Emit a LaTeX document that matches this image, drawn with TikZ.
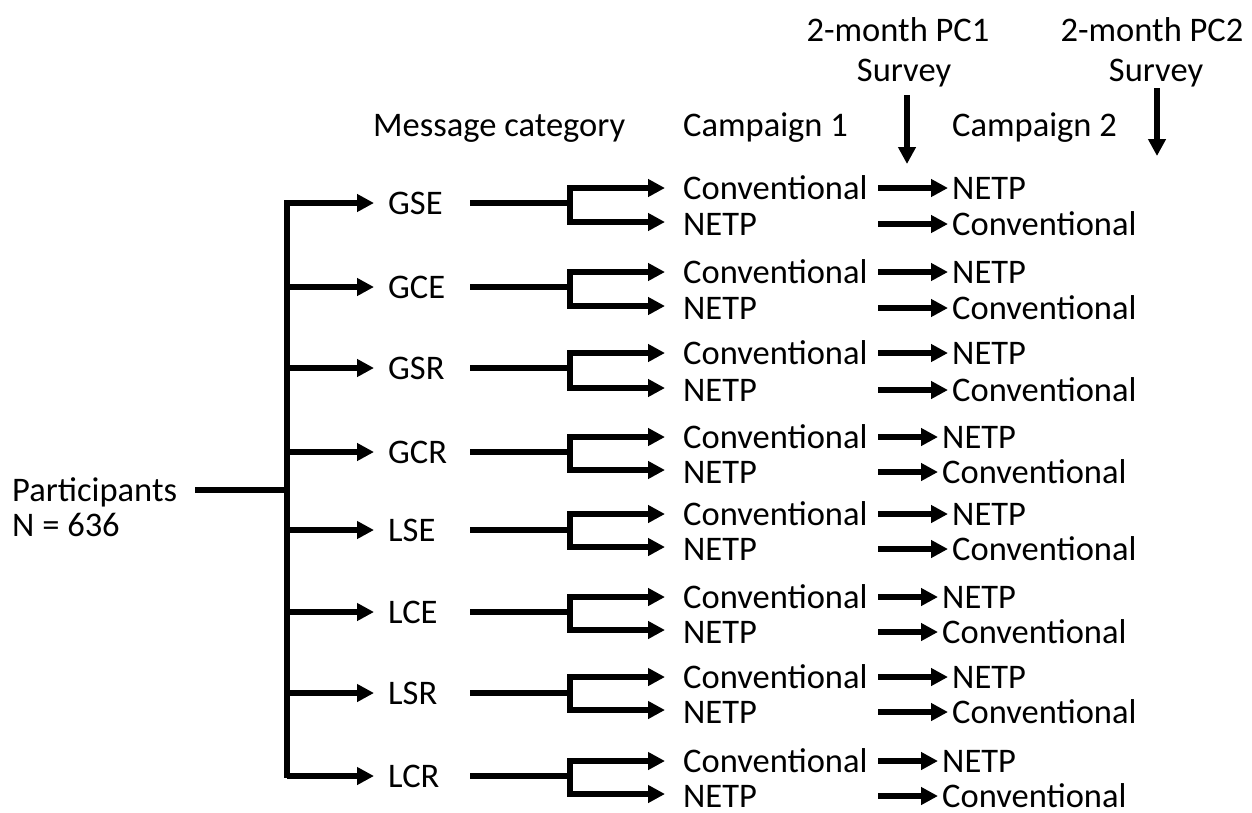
\documentclass[tikz,border=0pt]{standalone}
\usepackage{fontspec}
\setmainfont{Carlito}
\usetikzlibrary{arrows.meta}
\begin{document}
\begin{tikzpicture}[x=1pt,y=-1pt,
  lbl/.style={anchor=west,inner sep=0pt,text height=22pt,text depth=0pt,font=\fontsize{34.5}{35}\selectfont},
  ctr/.style={lbl,anchor=center},
  ln/.style={line width=5.5pt},
  lnr/.style={line width=5.5pt,line cap=rect},
  arr/.style={line width=5.5pt,-{Triangle[length=17pt,width=17pt]}},
]
\useasboundingbox (0,0) rectangle (1252,812);
% headers
\node[ctr] (h1a) at (898,30) {2-month PC1};
\node[ctr] (h1b) at (904,70) {Survey};
\node[ctr] (h2a) at (1152,30) {2-month PC2};
\node[ctr] (h2b) at (1156,70) {Survey};
\node[lbl] (mc) at (373,125) {Message category};
\node[lbl] (c1h) at (683,125) {Campaign 1};
\node[lbl] (c2h) at (952,125) {Campaign 2};
\coordinate (s1a) at (907,95); \coordinate (s1b) at (907,164);
\coordinate (s2a) at (1157,88); \coordinate (s2b) at (1157,156);
\draw[arr] (s1a) -- (s1b);
\draw[arr] (s2a) -- (s2b);
% participants
\node[anchor=base west,inner sep=0pt,align=left,font=\fontsize{34.5}{35}\selectfont] (p) at (12,536) {Participants\\N = 636};
\coordinate (pl) at (195,490);
\coordinate (tj) at (287,490);
\coordinate (ttop) at (287,203);
\coordinate (tbot) at (287,775);
\draw[ln] (pl) -- (tj);
\draw[lnr] (ttop) -- (tbot);
% rows
\foreach \i/\lab/\yb/\yc/\yn/\xt in {1/GSE/203/188/224/952,2/GCE/287/272/308/952,3/GSR/368/353/390/952,4/GCR/452/437/472/942,5/LSE/530/514/549/952,6/LCE/612/597/632/942,7/LSR/693/677/712/952,8/LCR/776/761/796/942}{
  \node[lbl] (g\i) at (388,\yb) {\lab};
  \coordinate (ga\i) at (287,\yb);
  \coordinate (ge\i) at (374,\yb);
  \draw[arr] (ga\i) -- (ge\i);
  \coordinate (la\i) at (470,\yb);
  \coordinate (lb\i) at (570,\yb);
  \coordinate (lt\i) at (570,\yc);
  \coordinate (lu\i) at (570,\yn-2);
  \draw[ln] (la\i) -- (lb\i);
  \draw[lnr] (lt\i) -- (lu\i);
  \node[lbl] (cv\i) at (683,\yc) {Conventional};
  \node[lbl] (ne\i) at (683,\yn) {NETP};
  \coordinate (ct\i) at (665,\yc);
  \coordinate (nt\i) at (665,\yn-2);
  \draw[arr] (lt\i) -- (ct\i);
  \draw[arr] (lu\i) -- (nt\i);
  \node[lbl] (nb\i) at (\xt,\yc) {NETP};
  \node[lbl] (cb\i) at (\xt,\yn) {Conventional};
  \coordinate (xa\i) at (878,\yc);
  \coordinate (xb\i) at (878,\yn);
  \draw[arr] (xa\i) -- ([xshift=-4pt]nb\i.west);
  \draw[arr] (xb\i) -- ([xshift=-4pt]cb\i.west);
}
\end{tikzpicture}
\end{document}
